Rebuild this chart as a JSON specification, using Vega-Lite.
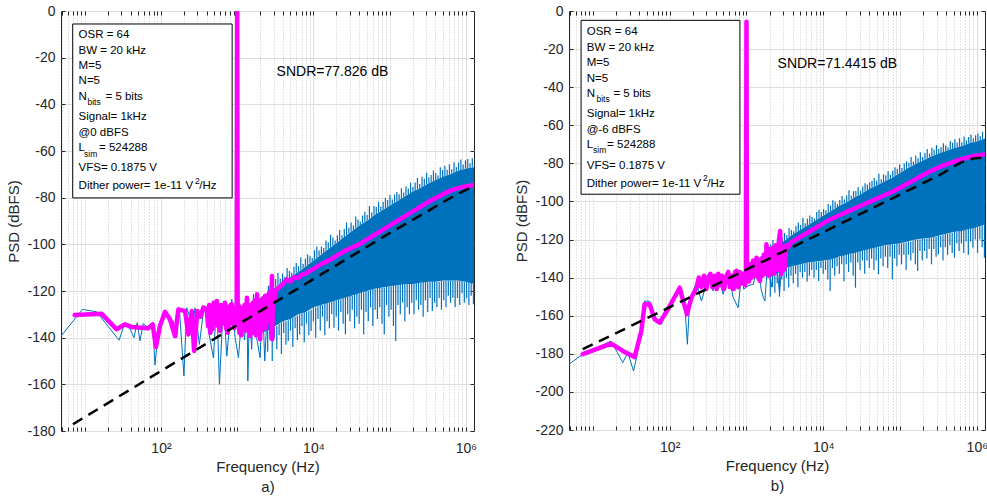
{
"$schema":"https://vega.github.io/schema/vega-lite/v6.json",
"padding":{"left":6,"top":3,"right":0,"bottom":0},
"bounds":"flush",
"spacing":95,
"config":{"font":"Liberation Sans","view":{"stroke":"#262626","strokeWidth":1}},
"datasets":{
"blueL":[{"f":4.88,"db":-139.3},{"f":9.33,"db":-127.9},{"f":14.3,"db":-128.9},{"f":28.2,"db":-141.1},{"f":33.6,"db":-133.6},{"f":38.3,"db":-135.4},{"f":44.2,"db":-140},{"f":48.8,"db":-133.6},{"f":53,"db":-141.4},{"f":58.5,"db":-134},{"f":68,"db":-135.7},{"f":77.8,"db":-133.6},{"f":83.4,"db":-151.7},{"f":92.2,"db":-137.1},{"f":113,"db":-128.6},{"f":145,"db":-132.9},{"f":161,"db":-140},{"f":174,"db":-127.2},{"f":200,"db":-156.4},{"f":218,"db":-127.2},{"f":261,"db":-135},{"f":280,"db":-127.2},{"f":319,"db":-142.9},{"f":368,"db":-126.4},{"f":420,"db":-137},{"f":488,"db":-148.6},{"f":540,"db":-124.3},{"f":585,"db":-160},{"f":661,"db":-124.3},{"f":731,"db":-147.9},{"f":851,"db":-123.6},{"f":940,"db":-140},{"f":1040,"db":-148.6},{"f":1150,"db":-130},{"f":1250,"db":-141},{"f":1342,"db":-123.6},{"f":1380,"db":-158.6},{"f":1450,"db":-128},{"f":1550,"db":-145},{"f":1637,"db":-121.4},{"f":1800,"db":-140},{"f":2000,"db":-148.6},{"f":2150,"db":-124},{"f":2300,"db":-150},{"f":2570,"db":-117.9},{"f":2700,"db":-140}],
"bandL":[{"f":1585,"hi":-125.5,"lo":-139},{"f":1995,"hi":-123,"lo":-138},{"f":2512,"hi":-121,"lo":-137},{"f":3162,"hi":-118.5,"lo":-135},{"f":3981,"hi":-116.5,"lo":-133},{"f":5012,"hi":-114,"lo":-132},{"f":6310,"hi":-112,"lo":-130},{"f":7943,"hi":-109.5,"lo":-129},{"f":10000,"hi":-107,"lo":-127},{"f":12589,"hi":-104.5,"lo":-126},{"f":15849,"hi":-102,"lo":-125},{"f":19953,"hi":-99.5,"lo":-124},{"f":25119,"hi":-97,"lo":-123},{"f":31623,"hi":-94.5,"lo":-122},{"f":39811,"hi":-92,"lo":-121},{"f":50119,"hi":-90,"lo":-120},{"f":63096,"hi":-87.5,"lo":-119},{"f":79433,"hi":-85.5,"lo":-118.5},{"f":100000,"hi":-83.5,"lo":-118},{"f":125893,"hi":-81.5,"lo":-117.5},{"f":158489,"hi":-79.5,"lo":-117},{"f":199526,"hi":-77.5,"lo":-117},{"f":251189,"hi":-76,"lo":-116.5},{"f":316228,"hi":-74,"lo":-116},{"f":398107,"hi":-72.5,"lo":-116},{"f":501187,"hi":-71,"lo":-115.5},{"f":630957,"hi":-70,"lo":-115.5},{"f":794328,"hi":-68.5,"lo":-115.5},{"f":1000000,"hi":-67.5,"lo":-116},{"f":1280000,"hi":-67,"lo":-117}],
"spikesL":[
{"f":2512,"body":-137,"tip":-146},{"f":2692,"body":-136.5,"tip":-141},{"f":2884,"body":-136,"tip":-150},{"f":3090,"body":-135.5,"tip":-140},{"f":3311,"body":-135,"tip":-145},{"f":3548,"body":-134,"tip":-139},{"f":3802,"body":-133.5,"tip":-147},{"f":4074,"body":-133,"tip":-138},{"f":4365,"body":-133,"tip":-143},{"f":4677,"body":-132.5,"tip":-141.4},{"f":5012,"body":-132,"tip":-137},{"f":5370,"body":-131.5,"tip":-144},{"f":5754,"body":-131,"tip":-136},{"f":6166,"body":-130.5,"tip":-141},{"f":6607,"body":-130,"tip":-138.6},{"f":7079,"body":-129.5,"tip":-135},{"f":7586,"body":-129,"tip":-142},{"f":8128,"body":-129,"tip":-134},{"f":8710,"body":-128.5,"tip":-139},{"f":9333,"body":-128,"tip":-137.1},{"f":10000,"body":-127,"tip":-133},{"f":10715,"body":-127,"tip":-140},{"f":11482,"body":-126.5,"tip":-132},{"f":12303,"body":-126,"tip":-137},{"f":13183,"body":-126,"tip":-131},{"f":14125,"body":-125.5,"tip":-139},{"f":15136,"body":-125,"tip":-133},{"f":16218,"body":-125,"tip":-136},{"f":17378,"body":-124.5,"tip":-130},{"f":18621,"body":-124,"tip":-135.7},{"f":19953,"body":-124,"tip":-131},{"f":21380,"body":-123.5,"tip":-137},{"f":22909,"body":-123.5,"tip":-129},{"f":24547,"body":-123,"tip":-134},{"f":26303,"body":-122.5,"tip":-138.6},{"f":28184,"body":-122.5,"tip":-130},{"f":30200,"body":-122,"tip":-133},{"f":32359,"body":-122,"tip":-128},{"f":34674,"body":-121.5,"tip":-136},{"f":37154,"body":-121,"tip":-131},{"f":39811,"body":-121,"tip":-134},{"f":42658,"body":-120.5,"tip":-128},{"f":45709,"body":-120.5,"tip":-138.6},{"f":48978,"body":-120,"tip":-129},{"f":52481,"body":-120,"tip":-133},{"f":56234,"body":-119.5,"tip":-127},{"f":60256,"body":-119,"tip":-135},{"f":64565,"body":-119,"tip":-128},{"f":69183,"body":-118.5,"tip":-132},{"f":74131,"body":-118.5,"tip":-127},{"f":79433,"body":-118.5,"tip":-134},{"f":85114,"body":-118.5,"tip":-138.6},{"f":91201,"body":-118,"tip":-126},{"f":97724,"body":-118,"tip":-131},{"f":104713,"body":-118,"tip":-128},{"f":112202,"body":-117.5,"tip":-135},{"f":120226,"body":-117.5,"tip":-141.4},{"f":128825,"body":-117.5,"tip":-126},{"f":138038,"body":-117,"tip":-130},{"f":147911,"body":-117,"tip":-125},{"f":158489,"body":-117,"tip":-133},{"f":169824,"body":-117,"tip":-127},{"f":181970,"body":-116.5,"tip":-130},{"f":194984,"body":-116.5,"tip":-125},{"f":208930,"body":-116.5,"tip":-130},{"f":223872,"body":-116.5,"tip":-124},{"f":239883,"body":-116.5,"tip":-128},{"f":257040,"body":-116.5,"tip":-126},{"f":275423,"body":-116,"tip":-131},{"f":295121,"body":-116,"tip":-124},{"f":316228,"body":-116,"tip":-129},{"f":338844,"body":-116,"tip":-123},{"f":363078,"body":-116,"tip":-128.6},{"f":389045,"body":-116,"tip":-125},{"f":416869,"body":-116,"tip":-127},{"f":446684,"body":-116,"tip":-123},{"f":478630,"body":-115.5,"tip":-128},{"f":512861,"body":-115.5,"tip":-124},{"f":549541,"body":-115.5,"tip":-127},{"f":588844,"body":-115.5,"tip":-122},{"f":630957,"body":-115.5,"tip":-125},{"f":676083,"body":-115.5,"tip":-122.9},{"f":724436,"body":-115.5,"tip":-127},{"f":776247,"body":-115.5,"tip":-123},{"f":831764,"body":-115.5,"tip":-126},{"f":891251,"body":-115.5,"tip":-121},{"f":954993,"body":-116,"tip":-125},{"f":1023293,"body":-116,"tip":-123},{"f":1096478,"body":-116,"tip":-126},{"f":1174898,"body":-116.5,"tip":-122},{"f":1258925,"body":-117,"tip":-125.7},
{"f":2600,"body":-120.6,"tip":-117.6},{"f":2786,"body":-119.9,"tip":-115.4},{"f":2985,"body":-119.1,"tip":-117.6},{"f":3199,"body":-118.4,"tip":-114.9},{"f":3428,"body":-117.8,"tip":-112.3},{"f":3673,"body":-117.2,"tip":-114.7},{"f":3936,"body":-116.6,"tip":-112.6},{"f":4217,"body":-115.9,"tip":-113.9},{"f":4519,"body":-115.1,"tip":-110.1},{"f":4842,"body":-114.4,"tip":-111.4},{"f":5188,"body":-113.7,"tip":-112.2},{"f":5559,"body":-113.1,"tip":-109.6},{"f":5957,"body":-112.5,"tip":-108},{"f":6383,"body":-111.9,"tip":-109.4},{"f":6839,"body":-111.1,"tip":-105.6},{"f":7328,"body":-110.4,"tip":-108.4},{"f":7852,"body":-109.6,"tip":-106.1},{"f":8414,"body":-108.9,"tip":-104.4},{"f":9016,"body":-108.1,"tip":-105.1},{"f":9661,"body":-107.4,"tip":-105.9},{"f":10351,"body":-106.6,"tip":-102.6},{"f":11092,"body":-105.9,"tip":-100.9},{"f":11885,"body":-105.1,"tip":-102.6},{"f":12735,"body":-104.4,"tip":-100.9},{"f":13646,"body":-103.6,"tip":-101.6},{"f":14622,"body":-102.9,"tip":-98.4},{"f":15668,"body":-102.1,"tip":-99.1},{"f":16788,"body":-101.4,"tip":-95.9},{"f":17989,"body":-100.6,"tip":-97.1},{"f":19275,"body":-99.9,"tip":-98.4},{"f":20654,"body":-99.1,"tip":-96.1},{"f":22131,"body":-98.4,"tip":-93.9},{"f":23714,"body":-97.6,"tip":-96.1},{"f":25410,"body":-96.9,"tip":-93.4},{"f":27227,"body":-96.1,"tip":-90.6},{"f":29174,"body":-95.4,"tip":-92.9},{"f":31261,"body":-94.6,"tip":-90.6},{"f":33497,"body":-93.9,"tip":-91.9},{"f":35892,"body":-93.1,"tip":-88.1},{"f":38459,"body":-92.4,"tip":-89.4},{"f":41210,"body":-91.7,"tip":-90.2},{"f":44157,"body":-91.1,"tip":-87.6},{"f":47315,"body":-90.5,"tip":-86},{"f":50699,"body":-89.9,"tip":-87.4},{"f":54325,"body":-89.1,"tip":-83.6},{"f":58210,"body":-88.4,"tip":-86.4},{"f":62373,"body":-87.6,"tip":-83.6},{"f":66834,"body":-87,"tip":-84},{"f":71614,"body":-86.4,"tip":-81.9},{"f":76736,"body":-85.8,"tip":-83.8},{"f":82224,"body":-85.2,"tip":-81.7},{"f":88105,"body":-84.6,"tip":-80.1},{"f":94406,"body":-84,"tip":-81},{"f":101158,"body":-83.4,"tip":-78.9},{"f":108393,"body":-82.8,"tip":-80.8},{"f":116145,"body":-82.2,"tip":-78.7},{"f":124451,"body":-81.6,"tip":-77.6},{"f":133352,"body":-81,"tip":-78.5},{"f":142889,"body":-80.4,"tip":-75.9},{"f":153109,"body":-79.8,"tip":-77.8},{"f":164059,"body":-79.2,"tip":-75.2},{"f":175792,"body":-78.6,"tip":-76.1},{"f":188365,"body":-78,"tip":-73.5},{"f":201837,"body":-77.4,"tip":-75.4},{"f":216272,"body":-77,"tip":-73.5},{"f":231739,"body":-76.5,"tip":-71.5},{"f":248313,"body":-76.1,"tip":-74.1},{"f":266073,"body":-75.5,"tip":-71},{"f":285102,"body":-74.9,"tip":-71.9},{"f":305492,"body":-74.3,"tip":-69.3},{"f":327340,"body":-73.8,"tip":-71.3},{"f":350752,"body":-73.3,"tip":-70.3},{"f":375837,"body":-72.9,"tip":-68.4},{"f":402717,"body":-72.4,"tip":-69.4},{"f":431519,"body":-72,"tip":-70.5},{"f":462381,"body":-71.5,"tip":-67},{"f":495450,"body":-71.1,"tip":-68.1},{"f":530884,"body":-70.8,"tip":-66.3},{"f":568853,"body":-70.5,"tip":-68},{"f":609537,"body":-70.2,"tip":-65.7},{"f":653131,"body":-69.8,"tip":-67.8},{"f":699842,"body":-69.3,"tip":-64.8},{"f":749894,"body":-68.9,"tip":-66.9},{"f":803526,"body":-68.4,"tip":-64.9},{"f":860994,"body":-68.1,"tip":-63.6},{"f":922571,"body":-67.8,"tip":-65.8},{"f":988553,"body":-67.5,"tip":-64},{"f":1059254,"body":-67.4,"tip":-63.4},{"f":1135011,"body":-67.2,"tip":-65.2},{"f":1216186,"body":-67.1,"tip":-63.1}],
"magL":[{"f":7.38,"db":-130.3},{"f":16.6,"db":-129.7},{"f":26.1,"db":-136.4},{"f":33.6,"db":-134.3},{"f":41.1,"db":-135.4},{"f":68,"db":-136},{"f":77.8,"db":-134.3},{"f":85.9,"db":-144},{"f":97,"db":-135},{"f":113,"db":-128.9},{"f":131,"db":-132.1},{"f":153,"db":-139.3},{"f":169,"db":-127.9},{"f":207,"db":-128.6},{"f":229,"db":-138.6},{"f":254,"db":-128.6},{"f":272,"db":-145.7},{"f":300,"db":-128.6},{"f":330,"db":-131},{"f":360,"db":-127},{"f":400,"db":-127.9},{"f":415,"db":-135},{"f":430,"db":-126},{"f":445,"db":-138},{"f":460,"db":-129},{"f":475,"db":-136.4},{"f":490,"db":-125},{"f":505,"db":-133},{"f":520,"db":-127},{"f":540,"db":-124.3},{"f":560,"db":-135},{"f":580,"db":-128},{"f":597,"db":-137.1},{"f":615,"db":-126},{"f":635,"db":-134},{"f":650,"db":-126},{"f":670,"db":-131},{"f":695,"db":-125},{"f":715,"db":-136},{"f":730,"db":-128},{"f":750,"db":-137.9},{"f":770,"db":-127},{"f":790,"db":-135},{"f":815,"db":-126},{"f":851,"db":-125.7},{"f":880,"db":-134},{"f":900,"db":-128},{"f":920,"db":-136},{"f":950,"db":-127},{"f":985,"db":-133},{"f":1000,"db":0},{"f":1015,"db":-131},{"f":1040,"db":-126},{"f":1070,"db":-138},{"f":1100,"db":-127},{"f":1130,"db":-139},{"f":1160,"db":-128},{"f":1200,"db":-136},{"f":1250,"db":-126},{"f":1290,"db":-137},{"f":1342,"db":-122.9},{"f":1380,"db":-135},{"f":1420,"db":-127},{"f":1480,"db":-139.3},{"f":1520,"db":-126},{"f":1560,"db":-138},{"f":1600,"db":-125},{"f":1650,"db":-136},{"f":1700,"db":-124},{"f":1760,"db":-139},{"f":1820,"db":-121.4},{"f":1870,"db":-135},{"f":1930,"db":-125},{"f":2000,"db":-140.7},{"f":2060,"db":-124},{"f":2120,"db":-137},{"f":2190,"db":-123},{"f":2250,"db":-134},{"f":2320,"db":-122},{"f":2400,"db":-136},{"f":2450,"db":-122},{"f":2520,"db":-133},{"f":2600,"db":-121},{"f":2680,"db":-131},{"f":2750,"db":-120},{"f":2810,"db":-135},{"f":2860,"db":-113.6},{"f":2880,"db":-140.7},{"f":2930,"db":-126},{"f":3000,"db":-121},{"f":3100,"db":-124},{"f":3162,"db":-120},{"f":3548,"db":-118.5},{"f":3981,"db":-117},{"f":4467,"db":-115},{"f":5012,"db":-116},{"f":5623,"db":-114},{"f":6310,"db":-114.5},{"f":7079,"db":-113},{"f":7943,"db":-112.5},{"f":8913,"db":-111.5},{"f":10000,"db":-110.5},{"f":12589,"db":-108.5},{"f":15849,"db":-107},{"f":19953,"db":-105},{"f":25119,"db":-103},{"f":31623,"db":-101.5},{"f":39811,"db":-100},{"f":50119,"db":-98},{"f":63096,"db":-96},{"f":79433,"db":-94},{"f":100000,"db":-92},{"f":125893,"db":-90},{"f":158489,"db":-88},{"f":199526,"db":-86},{"f":251189,"db":-84},{"f":316228,"db":-82},{"f":398107,"db":-80.2},{"f":501187,"db":-78.5},{"f":630957,"db":-77},{"f":794328,"db":-75.9},{"f":1000000,"db":-75.1},{"f":1280000,"db":-74.7}],
"dashL":[{"f":7,"db":-177.1},{"f":100,"db":-154.3},{"f":1000,"db":-134.6},{"f":10000,"db":-114.9},{"f":100000,"db":-95.2},{"f":316228,"db":-85.8},{"f":562341,"db":-81},{"f":851138,"db":-77.9},{"f":1122018,"db":-75.9},{"f":1280000,"db":-75.2}],
"boxL":[{"f1":6.95,"f2":859,"y1":-5.57,"y2":-80.1}],
"textL":[{"f":8.3,"db":-10.3,"t":"OSR = 64"},{"f":8.3,"db":-17.3,"t":"BW = 20 kHz"},{"f":8.3,"db":-23.7,"t":"M=5"},{"f":8.3,"db":-30.1,"t":"N=5"},{"f":8.3,"db":-36.9,"t":"N"},{"f":18.7,"db":-36.9,"t":"= 5 bits"},{"f":8.3,"db":-45.6,"t":"Signal= 1kHz"},{"f":8.3,"db":-52.3,"t":"@0 dBFS"},{"f":8.3,"db":-58.7,"t":"L"},{"f":15.4,"db":-58.7,"t":"= 524288"},{"f":8.3,"db":-67.4,"t":"VFS= 0.1875 V"},{"f":8.3,"db":-75.1,"t":"Dither power= 1e-11 V"},{"f":319,"db":-75.1,"t":"/Hz"}],
"subL":[{"f":10.85,"db":-39.0,"t":"bits"},{"f":9.8,"db":-61.1,"t":"sim"},{"f":280,"db":-72.8,"t":"2"}],
"sndrL":[{"f":17780,"db":-26.1,"t":"SNDR=77.826 dB"}],
"blueR":[{"f":4.88,"db":-185.5},{"f":7.37,"db":-180.2},{"f":17.3,"db":-173.3},{"f":24.5,"db":-184.6},{"f":28.5,"db":-179.4},{"f":33.8,"db":-189},{"f":37.9,"db":-180.2},{"f":47.1,"db":-152.3},{"f":54.8,"db":-152.3},{"f":63.7,"db":-161.9},{"f":77.8,"db":-164.5},{"f":95,"db":-156.6},{"f":135,"db":-145.3},{"f":157,"db":-154},{"f":170,"db":-175},{"f":182,"db":-152.3},{"f":223,"db":-142.6},{"f":259,"db":-152.3},{"f":316,"db":-140},{"f":368,"db":-147},{"f":427,"db":-140},{"f":498,"db":-148.7},{"f":578,"db":-138.2},{"f":673,"db":-150.5},{"f":780,"db":-155.8},{"f":870,"db":-136.5},{"f":920,"db":-146},{"f":1080,"db":-144},{"f":1230,"db":-143.5},{"f":1430,"db":-129.5},{"f":1550,"db":-146},{"f":1660,"db":-150.5},{"f":1738,"db":-152.3},{"f":1900,"db":-130},{"f":2100,"db":-145},{"f":2400,"db":-128},{"f":2700,"db":-148},{"f":3000,"db":-125}],
"bandR":[{"f":1995,"hi":-126,"lo":-140},{"f":2512,"hi":-123,"lo":-138},{"f":3162,"hi":-120.5,"lo":-135},{"f":3981,"hi":-117.5,"lo":-134},{"f":5012,"hi":-115,"lo":-133},{"f":6310,"hi":-112.5,"lo":-132},{"f":7943,"hi":-110,"lo":-131.5},{"f":10000,"hi":-107.5,"lo":-131},{"f":12589,"hi":-105,"lo":-130.5},{"f":15849,"hi":-102.5,"lo":-129},{"f":19953,"hi":-100.5,"lo":-128},{"f":25119,"hi":-98,"lo":-127},{"f":31623,"hi":-96,"lo":-126},{"f":39811,"hi":-93.5,"lo":-125},{"f":50119,"hi":-91.5,"lo":-124},{"f":63096,"hi":-89.5,"lo":-123},{"f":79433,"hi":-87.5,"lo":-122.5},{"f":100000,"hi":-85,"lo":-122},{"f":125893,"hi":-82.5,"lo":-121},{"f":158489,"hi":-80.5,"lo":-120},{"f":199526,"hi":-78.5,"lo":-119.5},{"f":251189,"hi":-76.5,"lo":-119},{"f":316228,"hi":-75,"lo":-118},{"f":398107,"hi":-73.5,"lo":-117},{"f":501187,"hi":-72,"lo":-116},{"f":630957,"hi":-71,"lo":-115.5},{"f":794328,"hi":-69.5,"lo":-114.5},{"f":1000000,"hi":-68.5,"lo":-113.5},{"f":1280000,"hi":-67,"lo":-112}],
"spikesR":[
{"f":2042,"body":-140,"tip":-150},{"f":2188,"body":-139.5,"tip":-145},{"f":2344,"body":-139,"tip":-148},{"f":2512,"body":-138,"tip":-143},{"f":2692,"body":-137,"tip":-150},{"f":2884,"body":-136,"tip":-141},{"f":3090,"body":-135.5,"tip":-147},{"f":3311,"body":-135,"tip":-140},{"f":3548,"body":-134.5,"tip":-145},{"f":3802,"body":-134,"tip":-139},{"f":4074,"body":-134,"tip":-143},{"f":4365,"body":-133.5,"tip":-138},{"f":4677,"body":-133,"tip":-145},{"f":5012,"body":-133,"tip":-137},{"f":5370,"body":-132.5,"tip":-140},{"f":5754,"body":-132.5,"tip":-137},{"f":6166,"body":-132,"tip":-142},{"f":6607,"body":-132,"tip":-139},{"f":7079,"body":-131.5,"tip":-136},{"f":7586,"body":-131.5,"tip":-140},{"f":8128,"body":-131.5,"tip":-136},{"f":8710,"body":-131.5,"tip":-141.8},{"f":9333,"body":-131,"tip":-135},{"f":10000,"body":-131,"tip":-138},{"f":10715,"body":-131,"tip":-136},{"f":11482,"body":-130.5,"tip":-141},{"f":12303,"body":-130.5,"tip":-147},{"f":13183,"body":-130,"tip":-135},{"f":14125,"body":-129.5,"tip":-139},{"f":15136,"body":-129,"tip":-134},{"f":16218,"body":-129,"tip":-138},{"f":17378,"body":-128.5,"tip":-133},{"f":18621,"body":-128,"tip":-142},{"f":19953,"body":-128,"tip":-133},{"f":21380,"body":-127.5,"tip":-137},{"f":22909,"body":-127.5,"tip":-132},{"f":24547,"body":-127,"tip":-139},{"f":26303,"body":-126.5,"tip":-145.3},{"f":28184,"body":-126.5,"tip":-132},{"f":30200,"body":-126,"tip":-136},{"f":32359,"body":-126,"tip":-131},{"f":34674,"body":-125.5,"tip":-138},{"f":37154,"body":-125,"tip":-131},{"f":39811,"body":-125,"tip":-135},{"f":42658,"body":-124.5,"tip":-130},{"f":45709,"body":-124.5,"tip":-136},{"f":48978,"body":-124,"tip":-131},{"f":52481,"body":-124,"tip":-138.2},{"f":56234,"body":-123.5,"tip":-130},{"f":60256,"body":-123,"tip":-134},{"f":64565,"body":-123,"tip":-129},{"f":69183,"body":-123,"tip":-135},{"f":74131,"body":-122.5,"tip":-129},{"f":79433,"body":-122.5,"tip":-140.9},{"f":85114,"body":-122.5,"tip":-130},{"f":91201,"body":-122,"tip":-134},{"f":97724,"body":-122,"tip":-128},{"f":104713,"body":-122,"tip":-133},{"f":112202,"body":-121.5,"tip":-128},{"f":120226,"body":-121.5,"tip":-136},{"f":128825,"body":-121,"tip":-128},{"f":138038,"body":-121,"tip":-131},{"f":147911,"body":-120.5,"tip":-127},{"f":158489,"body":-120,"tip":-133},{"f":169824,"body":-120,"tip":-136.5},{"f":181970,"body":-120,"tip":-126},{"f":194984,"body":-119.5,"tip":-131},{"f":208930,"body":-119.5,"tip":-126},{"f":223872,"body":-119.5,"tip":-130},{"f":239883,"body":-119,"tip":-125},{"f":257040,"body":-119,"tip":-133},{"f":275423,"body":-118.5,"tip":-125},{"f":295121,"body":-118.5,"tip":-129},{"f":316228,"body":-118,"tip":-127.7},{"f":338844,"body":-118,"tip":-124},{"f":363078,"body":-117.5,"tip":-131},{"f":389045,"body":-117,"tip":-124},{"f":416869,"body":-117,"tip":-128},{"f":446684,"body":-116.5,"tip":-123},{"f":478630,"body":-116.5,"tip":-127},{"f":512861,"body":-116,"tip":-129.5},{"f":549541,"body":-116,"tip":-122},{"f":588844,"body":-115.5,"tip":-126},{"f":630957,"body":-115.5,"tip":-122},{"f":676083,"body":-115,"tip":-127},{"f":724436,"body":-115,"tip":-121},{"f":776247,"body":-114.5,"tip":-128},{"f":831764,"body":-114,"tip":-121},{"f":891251,"body":-114,"tip":-124.3},{"f":954993,"body":-113.5,"tip":-120},{"f":1023293,"body":-113.5,"tip":-127},{"f":1096478,"body":-113,"tip":-120},{"f":1174898,"body":-112.5,"tip":-124},{"f":1258925,"body":-112,"tip":-129.5},
{"f":2065,"body":-125.6,"tip":-122.6},{"f":2213,"body":-124.7,"tip":-120.2},{"f":2371,"body":-123.8,"tip":-122.3},{"f":2541,"body":-122.9,"tip":-119.4},{"f":2723,"body":-122.1,"tip":-116.6},{"f":2917,"body":-121.4,"tip":-118.9},{"f":3126,"body":-120.6,"tip":-116.6},{"f":3350,"body":-119.8,"tip":-117.8},{"f":3589,"body":-118.9,"tip":-113.9},{"f":3846,"body":-118,"tip":-115},{"f":4121,"body":-117.1,"tip":-115.6},{"f":4416,"body":-116.4,"tip":-112.9},{"f":4732,"body":-115.6,"tip":-111.1},{"f":5070,"body":-114.9,"tip":-112.4},{"f":5433,"body":-114.1,"tip":-108.6},{"f":5821,"body":-113.4,"tip":-111.4},{"f":6237,"body":-112.6,"tip":-109.1},{"f":6683,"body":-111.9,"tip":-107.4},{"f":7161,"body":-111.1,"tip":-108.1},{"f":7674,"body":-110.4,"tip":-108.9},{"f":8222,"body":-109.6,"tip":-105.6},{"f":8810,"body":-108.9,"tip":-104.4},{"f":9441,"body":-108.1,"tip":-105.6},{"f":10116,"body":-107.4,"tip":-103.9},{"f":10839,"body":-106.6,"tip":-104.6},{"f":11614,"body":-105.9,"tip":-101.4},{"f":12445,"body":-105.1,"tip":-102.1},{"f":13335,"body":-104.4,"tip":-99.4},{"f":14289,"body":-103.6,"tip":-100.1},{"f":15311,"body":-102.9,"tip":-101.4},{"f":16406,"body":-102.2,"tip":-99.2},{"f":17579,"body":-101.6,"tip":-97.1},{"f":18836,"body":-101,"tip":-99},{"f":20184,"body":-100.4,"tip":-96.9},{"f":21627,"body":-99.6,"tip":-94.1},{"f":23174,"body":-98.9,"tip":-96.9},{"f":24831,"body":-98.1,"tip":-94.6},{"f":26607,"body":-97.5,"tip":-94.5},{"f":28510,"body":-96.9,"tip":-92.4},{"f":30549,"body":-96.3,"tip":-94.3},{"f":32734,"body":-95.6,"tip":-92.1},{"f":35075,"body":-94.9,"tip":-90.4},{"f":37584,"body":-94.1,"tip":-91.1},{"f":40272,"body":-93.4,"tip":-89.9},{"f":43152,"body":-92.8,"tip":-89.3},{"f":46238,"body":-92.2,"tip":-87.7},{"f":49545,"body":-91.6,"tip":-89.1},{"f":53088,"body":-91,"tip":-85.5},{"f":56885,"body":-90.4,"tip":-88.4},{"f":60954,"body":-89.8,"tip":-85.8},{"f":65313,"body":-89.2,"tip":-86.2},{"f":69984,"body":-88.6,"tip":-84.1},{"f":74989,"body":-88,"tip":-86},{"f":80353,"body":-87.4,"tip":-83.9},{"f":86099,"body":-86.6,"tip":-82.1},{"f":92257,"body":-85.9,"tip":-82.9},{"f":98855,"body":-85.1,"tip":-80.6},{"f":105925,"body":-84.4,"tip":-82.4},{"f":113501,"body":-83.6,"tip":-80.1},{"f":121619,"body":-82.9,"tip":-78.9},{"f":130317,"body":-82.2,"tip":-79.7},{"f":139637,"body":-81.6,"tip":-76.6},{"f":149624,"body":-81,"tip":-79},{"f":160325,"body":-80.4,"tip":-75.9},{"f":171791,"body":-79.8,"tip":-77.3},{"f":184077,"body":-79.2,"tip":-74.2},{"f":197242,"body":-78.6,"tip":-76.6},{"f":211349,"body":-78,"tip":-74.5},{"f":226464,"body":-77.4,"tip":-72.4},{"f":242661,"body":-76.8,"tip":-74.8},{"f":260016,"body":-76.3,"tip":-71.8},{"f":278612,"body":-75.8,"tip":-72.8},{"f":298538,"body":-75.4,"tip":-70.4},{"f":319890,"body":-74.9,"tip":-72.4},{"f":342768,"body":-74.5,"tip":-71.5},{"f":367282,"body":-74,"tip":-69.5},{"f":393550,"body":-73.6,"tip":-70.6},{"f":421697,"body":-73.1,"tip":-71.6},{"f":451856,"body":-72.7,"tip":-68.2},{"f":484172,"body":-72.2,"tip":-69.2},{"f":518800,"body":-71.9,"tip":-67.4},{"f":555904,"body":-71.6,"tip":-69.1},{"f":595662,"body":-71.3,"tip":-66.8},{"f":638263,"body":-70.9,"tip":-68.9},{"f":683912,"body":-70.4,"tip":-65.9},{"f":732825,"body":-70,"tip":-68},{"f":785236,"body":-69.6,"tip":-66.1},{"f":841395,"body":-69.3,"tip":-64.8},{"f":901571,"body":-69,"tip":-67},{"f":966050,"body":-68.7,"tip":-65.2},{"f":1035142,"body":-68.3,"tip":-64.3},{"f":1109175,"body":-67.8,"tip":-65.8},{"f":1188502,"body":-67.4,"tip":-63.4}],
"magR":[{"f":7.37,"db":-180.2},{"f":17.3,"db":-174.6},{"f":24.5,"db":-178.5},{"f":34.9,"db":-181.7},{"f":42.7,"db":-168},{"f":47.1,"db":-154},{"f":54.8,"db":-154},{"f":63.7,"db":-161.9},{"f":74,"db":-163.6},{"f":95,"db":-156.6},{"f":135,"db":-145.3},{"f":152,"db":-153.1},{"f":168,"db":-159.2},{"f":192,"db":-150.5},{"f":223,"db":-145.3},{"f":240,"db":-140},{"f":259,"db":-145},{"f":280,"db":-139},{"f":300,"db":-146},{"f":316,"db":-140},{"f":340,"db":-138},{"f":360,"db":-145},{"f":387,"db":-139},{"f":410,"db":-146},{"f":430,"db":-138},{"f":450,"db":-144},{"f":480,"db":-139},{"f":510,"db":-146},{"f":550,"db":-139},{"f":580,"db":-137},{"f":610,"db":-145},{"f":641,"db":-139},{"f":680,"db":-146},{"f":710,"db":-137},{"f":743,"db":-136.5},{"f":780,"db":-145},{"f":820,"db":-137},{"f":870,"db":-143},{"f":920,"db":-138},{"f":960,"db":-144},{"f":985,"db":-140},{"f":1000,"db":-5.6},{"f":1015,"db":-139},{"f":1040,"db":-135},{"f":1080,"db":-142},{"f":1120,"db":-133},{"f":1170,"db":-140},{"f":1220,"db":-131},{"f":1280,"db":-139},{"f":1350,"db":-129.5},{"f":1420,"db":-140},{"f":1500,"db":-141.8},{"f":1560,"db":-130},{"f":1620,"db":-139},{"f":1680,"db":-128},{"f":1735,"db":-127.7},{"f":1790,"db":-138},{"f":1820,"db":-122.5},{"f":1880,"db":-136},{"f":1950,"db":-139},{"f":2020,"db":-125},{"f":2100,"db":-126},{"f":2180,"db":-137},{"f":2250,"db":-124},{"f":2300,"db":-138},{"f":2400,"db":-123},{"f":2500,"db":-124},{"f":2580,"db":-136},{"f":2650,"db":-120},{"f":2750,"db":-115.5},{"f":2800,"db":-132},{"f":2850,"db":-138.2},{"f":2950,"db":-124},{"f":3050,"db":-136},{"f":3160,"db":-134.8},{"f":3300,"db":-123},{"f":3500,"db":-124},{"f":3800,"db":-121.5},{"f":4080,"db":-120.8},{"f":5623,"db":-117.5},{"f":11220,"db":-110.3},{"f":17783,"db":-106.5},{"f":30200,"db":-102.4},{"f":50119,"db":-98.5},{"f":83176,"db":-94.5},{"f":141254,"db":-89.5},{"f":226000,"db":-84.9},{"f":354813,"db":-81.3},{"f":616595,"db":-77.9},{"f":891251,"db":-76.2},{"f":1280000,"db":-75.3}],
"dashR":[{"f":7.37,"db":-177.6},{"f":100,"db":-155.5},{"f":1000,"db":-135.8},{"f":10000,"db":-116.1},{"f":100000,"db":-96.4},{"f":226000,"db":-89.3},{"f":316228,"db":-86.5},{"f":616595,"db":-79.6},{"f":891251,"db":-77.5},{"f":1280000,"db":-76.8}],
"boxR":[{"f1":7.01,"f2":822,"y1":-4.9,"y2":-96.2}],
"textR":[{"f":8.3,"db":-11.0,"t":"OSR = 64"},{"f":8.3,"db":-19.3,"t":"BW = 20 kHz"},{"f":8.3,"db":-27.5,"t":"M=5"},{"f":8.3,"db":-35.5,"t":"N=5"},{"f":8.3,"db":-43.8,"t":"N"},{"f":18.5,"db":-43.8,"t":"= 5 bits"},{"f":8.3,"db":-53.9,"t":"Signal= 1kHz"},{"f":8.3,"db":-62.3,"t":"@-6 dBFS"},{"f":8.3,"db":-70.4,"t":"L"},{"f":15.3,"db":-70.4,"t":"= 524288"},{"f":8.3,"db":-81.2,"t":"VFS= 0.1875 V"},{"f":8.3,"db":-90.7,"t":"Dither power= 1e-11 V"},{"f":309,"db":-90.7,"t":"/Hz"}],
"subR":[{"f":11.1,"db":-46.4,"t":"bits"},{"f":10.03,"db":-73.2,"t":"sim"},{"f":272,"db":-87.9,"t":"2"}],
"sndrR":[{"f":15240,"db":-27.8,"t":"SNDR=71.4415 dB"}]
},
"hconcat":[
{
"width":413,"height":420,
"resolve":{"axis":{"x":"independent","y":"independent"}},
"layer":[
{"data":{"name":"blueL"},"mark":{"type":"line","color":"#0072BD","strokeWidth":1,"clip":true},
"encoding":{"x":{"field":"f","type":"quantitative","scale":{"type":"log","domain":[4.88,1280000],"nice":false},
"axis":{"orient":"bottom","values":[5,6,7,8,9,10,20,30,40,50,60,70,80,90,100,200,300,400,500,600,700,800,900,1000,2000,3000,4000,5000,6000,7000,8000,9000,10000,20000,30000,40000,50000,60000,70000,80000,90000,100000,200000,300000,400000,500000,600000,700000,800000,900000,1000000],
"labelExpr":"datum.value==100?'10²':datum.value==10000?'10⁴':datum.value==1000000?'10⁶':''","labelOverlap":false,"labelFlush":false,"labelFontSize":14,"labelPadding":14,"labelColor":"#262626",
"title":["Frequency (Hz)","a)"],"titleFontSize":15,"titleFontWeight":"normal","titleColor":"#262626","titleLineHeight":20,"titlePadding":4,
"grid":true,"gridColor":{"condition":{"test":"datum.value==100||datum.value==10000||datum.value==1000000","value":"#dedede"},"value":"#c8c8c8"},
"gridDash":{"condition":{"test":"datum.value==100||datum.value==10000||datum.value==1000000","value":[]},"value":[1,2]},"gridWidth":1,
"domain":false,"ticks":true,"tickColor":"#262626","tickSize":-4}},
"y":{"field":"db","type":"quantitative","scale":{"domain":[-180,0],"nice":false,"zero":false},
"axis":{"orient":"left","values":[-180,-160,-140,-120,-100,-80,-60,-40,-20,0],"labelExpr":"''+datum.value","labelFlush":false,"labelOverlap":false,"labelFontSize":14,"labelPadding":10,"labelColor":"#262626",
"title":"PSD (dBFS)","titleFontSize":15,"titleFontWeight":"normal","titleColor":"#262626","titlePadding":5,
"grid":true,"gridColor":"#dedede","gridWidth":1,"domain":false,"ticks":true,"tickColor":"#262626","tickSize":-4}}}},
{"data":{"name":"bandL"},"mark":{"type":"area","color":"#0072BD","opacity":1,"clip":true},
"encoding":{"x":{"field":"f","type":"quantitative","scale":{"type":"log","domain":[4.88,1280000],"nice":false},"axis":null},
"y":{"field":"hi","type":"quantitative","scale":{"domain":[-180,0],"nice":false,"zero":false},"axis":null},"y2":{"field":"lo"}}},
{"data":{"name":"spikesL"},"mark":{"type":"rule","color":"#0072BD","strokeWidth":1.2,"clip":true},
"encoding":{"x":{"field":"f","type":"quantitative","scale":{"type":"log","domain":[4.88,1280000],"nice":false},"axis":null},
"y":{"field":"body","type":"quantitative","scale":{"domain":[-180,0],"nice":false,"zero":false},"axis":null},"y2":{"field":"tip"}}},
{"data":{"name":"magL"},"mark":{"type":"line","color":"#FF00FF","strokeWidth":4.5,"strokeJoin":"round","strokeCap":"round","clip":true},
"encoding":{"x":{"field":"f","type":"quantitative","scale":{"type":"log","domain":[4.88,1280000],"nice":false},"axis":null},
"y":{"field":"db","type":"quantitative","scale":{"domain":[-180,0],"nice":false,"zero":false},"axis":null}}},
{"data":{"name":"dashL"},"mark":{"type":"line","color":"#000000","strokeWidth":2.5,"strokeDash":[11,7],"clip":true},
"encoding":{"x":{"field":"f","type":"quantitative","scale":{"type":"log","domain":[4.88,1280000],"nice":false},
"axis":{"orient":"top","values":[5,6,7,8,9,10,20,30,40,50,60,70,80,90,100,200,300,400,500,600,700,800,900,1000,2000,3000,4000,5000,6000,7000,8000,9000,10000,20000,30000,40000,50000,60000,70000,80000,90000,100000,200000,300000,400000,500000,600000,700000,800000,900000,1000000],"labels":false,"title":null,"grid":false,"domain":false,"ticks":true,"tickColor":"#262626","tickSize":-4}},
"y":{"field":"db","type":"quantitative","scale":{"domain":[-180,0],"nice":false,"zero":false},
"axis":{"orient":"right","values":[-180,-160,-140,-120,-100,-80,-60,-40,-20,0],"labels":false,"title":null,"grid":false,"domain":false,"ticks":true,"tickColor":"#262626","tickSize":-4}}}},
{"data":{"name":"boxL"},"mark":{"type":"rect","fill":"#ffffff","stroke":"#000000","strokeWidth":1},
"encoding":{"x":{"field":"f1","type":"quantitative","scale":{"type":"log","domain":[4.88,1280000],"nice":false},"axis":null},"x2":{"field":"f2"},
"y":{"field":"y1","type":"quantitative","scale":{"domain":[-180,0],"nice":false,"zero":false},"axis":null},"y2":{"field":"y2"}}},
{"data":{"name":"textL"},"mark":{"type":"text","align":"left","baseline":"middle","fontSize":11.5,"color":"#000000"},
"encoding":{"x":{"field":"f","type":"quantitative","scale":{"type":"log","domain":[4.88,1280000],"nice":false},"axis":null},
"y":{"field":"db","type":"quantitative","scale":{"domain":[-180,0],"nice":false,"zero":false},"axis":null},"text":{"field":"t"}}},
{"data":{"name":"subL"},"mark":{"type":"text","align":"left","baseline":"middle","fontSize":8.5,"color":"#000000"},
"encoding":{"x":{"field":"f","type":"quantitative","scale":{"type":"log","domain":[4.88,1280000],"nice":false},"axis":null},
"y":{"field":"db","type":"quantitative","scale":{"domain":[-180,0],"nice":false,"zero":false},"axis":null},"text":{"field":"t"}}},
{"data":{"name":"sndrL"},"mark":{"type":"text","align":"center","baseline":"middle","fontSize":14,"color":"#000000"},
"encoding":{"x":{"field":"f","type":"quantitative","scale":{"type":"log","domain":[4.88,1280000],"nice":false},"axis":null},
"y":{"field":"db","type":"quantitative","scale":{"domain":[-180,0],"nice":false,"zero":false},"axis":null},"text":{"field":"t"}}}
]
},
{
"width":416,"height":419,
"resolve":{"axis":{"x":"independent","y":"independent"}},
"layer":[
{"data":{"name":"blueR"},"mark":{"type":"line","color":"#0072BD","strokeWidth":1,"clip":true},
"encoding":{"x":{"field":"f","type":"quantitative","scale":{"type":"log","domain":[4.88,1280000],"nice":false},
"axis":{"orient":"bottom","values":[5,6,7,8,9,10,20,30,40,50,60,70,80,90,100,200,300,400,500,600,700,800,900,1000,2000,3000,4000,5000,6000,7000,8000,9000,10000,20000,30000,40000,50000,60000,70000,80000,90000,100000,200000,300000,400000,500000,600000,700000,800000,900000,1000000],
"labelExpr":"datum.value==100?'10²':datum.value==10000?'10⁴':datum.value==1000000?'10⁶':''","labelOverlap":false,"labelFlush":false,"labelFontSize":14,"labelPadding":14,"labelColor":"#262626",
"title":["Frequency (Hz)","b)"],"titleFontSize":15,"titleFontWeight":"normal","titleColor":"#262626","titleLineHeight":20,"titlePadding":4,
"grid":true,"gridColor":{"condition":{"test":"datum.value==100||datum.value==10000||datum.value==1000000","value":"#dedede"},"value":"#c8c8c8"},
"gridDash":{"condition":{"test":"datum.value==100||datum.value==10000||datum.value==1000000","value":[]},"value":[1,2]},"gridWidth":1,
"domain":false,"ticks":true,"tickColor":"#262626","tickSize":-4}},
"y":{"field":"db","type":"quantitative","scale":{"domain":[-220,0],"nice":false,"zero":false},
"axis":{"orient":"left","values":[-220,-200,-180,-160,-140,-120,-100,-80,-60,-40,-20,0],"labelExpr":"''+datum.value","labelFlush":false,"labelOverlap":false,"labelFontSize":14,"labelPadding":10,"labelColor":"#262626",
"title":"PSD (dBFS)","titleFontSize":15,"titleFontWeight":"normal","titleColor":"#262626","titlePadding":5,
"grid":true,"gridColor":"#dedede","gridWidth":1,"domain":false,"ticks":true,"tickColor":"#262626","tickSize":-4}}}},
{"data":{"name":"bandR"},"mark":{"type":"area","color":"#0072BD","opacity":1,"clip":true},
"encoding":{"x":{"field":"f","type":"quantitative","scale":{"type":"log","domain":[4.88,1280000],"nice":false},"axis":null},
"y":{"field":"hi","type":"quantitative","scale":{"domain":[-220,0],"nice":false,"zero":false},"axis":null},"y2":{"field":"lo"}}},
{"data":{"name":"spikesR"},"mark":{"type":"rule","color":"#0072BD","strokeWidth":1.2,"clip":true},
"encoding":{"x":{"field":"f","type":"quantitative","scale":{"type":"log","domain":[4.88,1280000],"nice":false},"axis":null},
"y":{"field":"body","type":"quantitative","scale":{"domain":[-220,0],"nice":false,"zero":false},"axis":null},"y2":{"field":"tip"}}},
{"data":{"name":"magR"},"mark":{"type":"line","color":"#FF00FF","strokeWidth":4.5,"strokeJoin":"round","strokeCap":"round","clip":true},
"encoding":{"x":{"field":"f","type":"quantitative","scale":{"type":"log","domain":[4.88,1280000],"nice":false},"axis":null},
"y":{"field":"db","type":"quantitative","scale":{"domain":[-220,0],"nice":false,"zero":false},"axis":null}}},
{"data":{"name":"dashR"},"mark":{"type":"line","color":"#000000","strokeWidth":2.5,"strokeDash":[11,7],"clip":true},
"encoding":{"x":{"field":"f","type":"quantitative","scale":{"type":"log","domain":[4.88,1280000],"nice":false},
"axis":{"orient":"top","values":[5,6,7,8,9,10,20,30,40,50,60,70,80,90,100,200,300,400,500,600,700,800,900,1000,2000,3000,4000,5000,6000,7000,8000,9000,10000,20000,30000,40000,50000,60000,70000,80000,90000,100000,200000,300000,400000,500000,600000,700000,800000,900000,1000000],"labels":false,"title":null,"grid":false,"domain":false,"ticks":true,"tickColor":"#262626","tickSize":-4}},
"y":{"field":"db","type":"quantitative","scale":{"domain":[-220,0],"nice":false,"zero":false},
"axis":{"orient":"right","values":[-220,-200,-180,-160,-140,-120,-100,-80,-60,-40,-20,0],"labels":false,"title":null,"grid":false,"domain":false,"ticks":true,"tickColor":"#262626","tickSize":-4}}}},
{"data":{"name":"boxR"},"mark":{"type":"rect","fill":"#ffffff","stroke":"#000000","strokeWidth":1},
"encoding":{"x":{"field":"f1","type":"quantitative","scale":{"type":"log","domain":[4.88,1280000],"nice":false},"axis":null},"x2":{"field":"f2"},
"y":{"field":"y1","type":"quantitative","scale":{"domain":[-220,0],"nice":false,"zero":false},"axis":null},"y2":{"field":"y2"}}},
{"data":{"name":"textR"},"mark":{"type":"text","align":"left","baseline":"middle","fontSize":11.5,"color":"#000000"},
"encoding":{"x":{"field":"f","type":"quantitative","scale":{"type":"log","domain":[4.88,1280000],"nice":false},"axis":null},
"y":{"field":"db","type":"quantitative","scale":{"domain":[-220,0],"nice":false,"zero":false},"axis":null},"text":{"field":"t"}}},
{"data":{"name":"subR"},"mark":{"type":"text","align":"left","baseline":"middle","fontSize":8.5,"color":"#000000"},
"encoding":{"x":{"field":"f","type":"quantitative","scale":{"type":"log","domain":[4.88,1280000],"nice":false},"axis":null},
"y":{"field":"db","type":"quantitative","scale":{"domain":[-220,0],"nice":false,"zero":false},"axis":null},"text":{"field":"t"}}},
{"data":{"name":"sndrR"},"mark":{"type":"text","align":"center","baseline":"middle","fontSize":14,"color":"#000000"},
"encoding":{"x":{"field":"f","type":"quantitative","scale":{"type":"log","domain":[4.88,1280000],"nice":false},"axis":null},
"y":{"field":"db","type":"quantitative","scale":{"domain":[-220,0],"nice":false,"zero":false},"axis":null},"text":{"field":"t"}}}
]
}
]
}
